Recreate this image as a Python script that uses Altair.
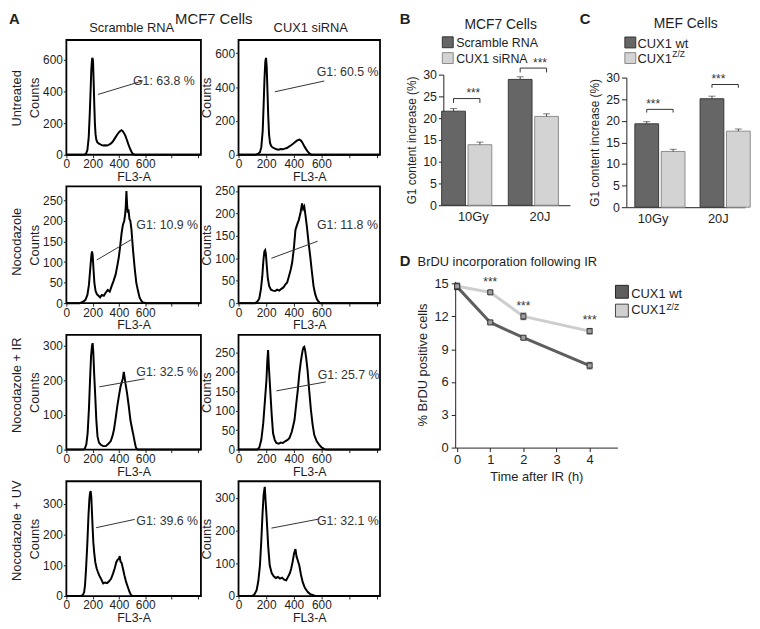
import altair as alt
import pandas as pd

FONT = "Liberation Sans"
INK = "#1e1e1e"

# ---------------- Panel A: flow-cytometry histograms (FL3-A channel vs counts) ----------------
untreated_scr_fl = [0, 140, 150, 160, 170, 178, 185, 190, 195, 199, 203, 207, 212, 217, 222, 228, 235, 245, 255, 265, 280, 295, 310, 325, 340, 355, 370, 385, 400, 410, 420, 430, 440, 450, 460, 470, 480, 490, 500, 510, 520, 1020]
untreated_scr_ct = [0, 0, 8, 30, 110, 260, 420, 540, 600, 612, 590, 480, 330, 200, 130, 95, 80, 72, 68, 62, 58, 60, 58, 64, 72, 85, 105, 125, 142, 150, 155, 148, 135, 118, 95, 70, 48, 28, 12, 4, 0, 0]

untreated_cux_fl = [0, 125, 140, 155, 165, 175, 182, 188, 194, 199, 204, 209, 215, 221, 228, 236, 245, 260, 275, 290, 305, 320, 335, 350, 365, 380, 395, 410, 420, 430, 440, 450, 460, 470, 480, 490, 500, 510, 520, 530, 1020]
untreated_cux_ct = [0, 0, 5, 15, 45, 140, 300, 450, 550, 572, 520, 390, 230, 120, 70, 52, 44, 38, 32, 30, 34, 32, 36, 40, 48, 56, 65, 75, 82, 86, 90, 85, 75, 60, 45, 32, 20, 10, 4, 0, 0]

noc_scr_fl = [0, 100, 115, 130, 145, 160, 172, 182, 190, 195, 200, 206, 213, 222, 232, 245, 257, 270, 285, 300, 315, 330, 345, 360, 375, 390, 400, 410, 420, 430, 440, 447, 452, 457, 462, 467, 472, 480, 487, 495, 507, 520, 532, 545, 557, 570, 582, 595, 607, 1020]
noc_scr_ct = [0, 0, 2, 4, 8, 20, 45, 85, 115, 126, 118, 85, 50, 30, 22, 18, 14, 20, 18, 26, 32, 28, 42, 55, 70, 95, 114, 140, 170, 190, 200, 215, 235, 273, 240, 220, 228, 205, 200, 180, 130, 85, 50, 30, 14, 6, 2, 1, 0, 0]

noc_cux_fl = [0, 120, 135, 150, 162, 172, 180, 187, 193, 198, 204, 212, 222, 235, 250, 265, 280, 295, 310, 325, 340, 352, 365, 378, 388, 400, 412, 424, 436, 448, 460, 468, 476, 485, 495, 507, 519, 531, 543, 555, 567, 580, 590, 1020]
noc_cux_ct = [0, 0, 3, 10, 31, 60, 95, 115, 118, 110, 85, 55, 38, 30, 28, 27, 30, 28, 32, 35, 42, 46, 60, 75, 90, 120, 163, 175, 185, 200, 222, 210, 215, 195, 170, 135, 104, 70, 38, 20, 9, 3, 0, 0]

ir_scr_fl = [0, 130, 140, 152, 162, 172, 180, 188, 195, 200, 205, 212, 220, 228, 237, 248, 262, 280, 300, 318, 337, 350, 362, 375, 387, 400, 412, 422, 430, 437, 443, 450, 462, 475, 487, 500, 512, 522, 530, 540, 550, 1020]
ir_scr_ct = [0, 0, 3, 15, 48, 120, 200, 270, 300, 307, 280, 215, 152, 85, 38, 20, 14, 10, 10, 16, 24, 38, 57, 90, 124, 155, 181, 195, 205, 224, 210, 190, 162, 125, 86, 60, 38, 18, 5, 1, 0, 0]

ir_cux_fl = [0, 135, 150, 165, 179, 192, 202, 208, 214, 220, 226, 231, 240, 250, 262, 274, 290, 305, 321, 340, 355, 369, 385, 395, 405, 417, 429, 440, 452, 464, 470, 476, 482, 490, 500, 512, 524, 536, 548, 565, 583, 600, 619, 635, 1020]
ir_cux_ct = [0, 0, 5, 25, 68, 130, 178, 225, 256, 210, 175, 144, 90, 42, 25, 17, 15, 18, 17, 22, 25, 30, 45, 60, 76, 115, 153, 195, 229, 255, 262, 264, 255, 235, 203, 150, 102, 65, 38, 22, 13, 6, 2, 0, 0]

uv_scr_fl = [0, 110, 125, 135, 142, 150, 160, 168, 175, 180, 185, 190, 195, 200, 205, 212, 220, 230, 240, 250, 265, 280, 295, 310, 325, 340, 355, 368, 380, 390, 400, 406, 412, 420, 430, 442, 455, 467, 480, 492, 505, 1020]
uv_scr_ct = [0, 0, 3, 12, 35, 90, 175, 260, 314, 335, 341, 320, 270, 220, 175, 140, 110, 90, 78, 67, 55, 41, 44, 42, 48, 56, 73, 90, 110, 118, 121, 130, 112, 108, 90, 67, 45, 30, 14, 3, 0, 0]

uv_cux_fl = [0, 100, 115, 131, 143, 155, 165, 174, 182, 190, 196, 202, 207, 215, 226, 240, 255, 270, 285, 300, 315, 330, 345, 360, 372, 381, 392, 402, 412, 420, 428, 440, 452, 464, 480, 500, 518, 536, 555, 1020]
uv_cux_ct = [0, 0, 5, 18, 45, 93, 170, 253, 310, 333, 290, 250, 213, 150, 93, 70, 60, 55, 58, 53, 56, 50, 48, 60, 70, 83, 105, 130, 143, 120, 110, 93, 65, 43, 25, 13, 6, 3, 0, 0]

# G1 gate annotations (order: untreated scr/cux, noc scr/cux, IR scr/cux, UV scr/cux), in data units
g1_text = ["G1: 63.8 %", "G1: 60.5 %", "G1: 10.9 %", "G1: 11.8 %", "G1: 32.5 %", "G1: 25.7 %", "G1: 39.6 %", "G1: 32.1 %"]
gate_from_fl = [241, 263, 231, 238, 251, 274, 226, 238]
gate_from_ct = [381, 372, 105, 100, 181, 151, 222, 207]
gate_to_fl = [582, 621, 507, 573, 595, 632, 520, 585]
gate_to_ct = [467, 436, 157, 138, 204, 174, 249, 235]
g1_label_fl = [507, 566, 532, 568, 532, 573, 532, 568]
g1_label_ct = [439, 463, 181, 165, 211, 182, 232, 218]

count_max = [725, 678, 284, 260, 331, 295, 373, 350]
count_ticks = [[0, 200, 400, 600], [0, 200, 400, 600], [0, 50, 100, 150, 200, 250], [0, 50, 100, 150, 200, 250],
               [0, 100, 200, 300], [0, 50, 100, 150, 200, 250], [0, 100, 200, 300], [0, 100, 200, 300]]
fl_ticks = [0, 200, 400, 600, 800, 1000]

# ---------------- Panel B ----------------
b_conditions = ["10Gy", "20J"]
b_series = ["Scramble RNA", "CUX1 siRNA"]
b_scramble = [21.6, 28.9]
b_scramble_err = [0.6, 0.6]
b_cux1 = [13.9, 20.4]
b_cux1_err = [0.6, 0.6]
b_bracket = [24.5, 31.5]

# ---------------- Panel C ----------------
c_series = ["CUX1 wt", "CUX1 Z/Z"]
c_wt = [19.3, 25.1]
c_wt_err = [0.5, 0.6]
c_zz = [12.9, 17.6]
c_zz_err = [0.5, 0.5]
c_bracket = [22.65, 28.4]

# ---------------- Panel D ----------------
d_time = [0, 1, 2, 4]
d_wt = [14.7, 11.45, 10.05, 7.5]
d_wt_err = [0.25, 0.15, 0.15, 0.3]
d_zz = [14.75, 14.2, 12.0, 10.65]
d_zz_err = [0.3, 0.15, 0.3, 0.25]
d_star_time = [1, 2, 4]
d_star_level = [14.8, 12.57, 11.3]

ONE = pd.DataFrame({"k": [0]})


def label(text, x, y, size=13, weight="normal", align="left", baseline="alphabetic", angle=None, color=INK):
    kw = dict(text=text, fontSize=size, fontWeight=weight, align=align, baseline=baseline, color=color, font=FONT)
    if angle is not None:
        kw["angle"] = angle
    return alt.Chart(ONE).mark_text(**kw).encode(x=alt.value(x), y=alt.value(y))


def square(x, y, side, fill, stroke):
    return alt.Chart(ONE).mark_square(size=side * side, fill=fill, stroke=stroke, strokeWidth=1, opacity=1,
                                      filled=True).encode(x=alt.value(x), y=alt.value(y))


def hist(i, fl, ct, w, h, extras):
    xs = alt.Scale(domain=[0, 1024], nice=False, zero=False)
    ys = alt.Scale(domain=[0, count_max[i]], nice=False)
    xax = alt.Axis(values=fl_ticks, labelExpr="datum.value <= 600 ? datum.label : ''", grid=False, domain=False,
                   tickSize=3, labelFontSize=12, labelPadding=1, labelFlush=False, labelOverlap=False,
                   titleFontSize=12.5, titlePadding=1)
    yax = alt.Axis(values=count_ticks[i], grid=False, domain=False, tickSize=3, labelFontSize=12, labelPadding=1,
                   labelFlush=False, labelOverlap=False, titleFontSize=13, titlePadding=1)
    X = lambda f: alt.X(f, scale=xs, axis=xax, title="FL3-A")
    Y = lambda f: alt.Y(f, scale=ys, axis=yax, title="Counts")
    curve = alt.Chart(pd.DataFrame({"fl": fl, "ct": ct})).mark_line(color="black", strokeWidth=2).encode(
        x=X("fl:Q"), y=Y("ct:Q"))
    gate_df = pd.DataFrame({"a": [gate_from_fl[i]], "b": [gate_to_fl[i]], "c": [gate_from_ct[i]], "d": [gate_to_ct[i]],
                            "tx": [g1_label_fl[i]], "ty": [g1_label_ct[i]], "t": [g1_text[i]]})
    gate = alt.Chart(gate_df).mark_rule(color="#333333", strokeWidth=1).encode(x=X("a:Q"), x2="b:Q", y=Y("c:Q"),
                                                                               y2="d:Q")
    txt = alt.Chart(gate_df).mark_text(align="left", baseline="alphabetic", fontSize=12.5, color="#333333",
                                       font=FONT).encode(x=X("tx:Q"), y=Y("ty:Q"), text="t:N")
    return alt.layer(curve, gate, txt, *extras).properties(
        width=w, height=h, view=alt.ViewBackground(stroke="black", strokeWidth=1.8))


W1, W2 = 136, 143
h1 = hist(0, untreated_scr_fl, untreated_scr_ct, W1, 116, [
    label("A", -58, -16, size=15, weight="bold"),
    label("MCF7 Cells", 149, -16, size=15, align="center"),
    label("Scramble RNA", 66, -8, align="center"),
    label("Untreated", -50, 59, align="center", baseline="middle", angle=270),
])
h2 = hist(1, untreated_cux_fl, untreated_cux_ct, W2, 116, [label("CUX1 siRNA", 73, -8, align="center")])
h3 = hist(2, noc_scr_fl, noc_scr_ct, W1, 118,
          [label("Nocodazole", -50, 56, align="center", baseline="middle", angle=270)])
h4 = hist(3, noc_cux_fl, noc_cux_ct, W2, 118, [])
h5 = hist(4, ir_scr_fl, ir_scr_ct, W1, 116,
          [label("Nocodazole + IR", -50, 51, align="center", baseline="middle", angle=270)])
h6 = hist(5, ir_cux_fl, ir_cux_ct, W2, 116, [])
h7 = hist(6, uv_scr_fl, uv_scr_ct, W1, 116,
          [label("Nocodazole + UV", -50, 50, align="center", baseline="middle", angle=270)])
h8 = hist(7, uv_cux_fl, uv_cux_ct, W2, 116, [])


def bar_panel(conds, series, v0, e0, v1, e1, levels, dip, pad_in, pad_out, w, h, xrange, yrange, xoff, yoff,
              bar_w, fills, strokes, extras):
    df = pd.DataFrame({"cond": conds * 2, "series": [series[0]] * 2 + [series[1]] * 2,
                       "val": v0 + v1, "err": e0 + e1})
    df["top"] = df["val"] + df["err"]
    xsc = alt.Scale(domain=conds, range=xrange, paddingInner=pad_in, paddingOuter=pad_out)
    xax = alt.Axis(title=None, labelAngle=0, ticks=False, labelFontSize=13, labelPadding=5, grid=False, offset=xoff)
    ysc = alt.Scale(domain=[0, 30], nice=False, range=yrange)
    yax = alt.Axis(values=[0, 5, 10, 15, 20, 25, 30], grid=False, tickSize=5, labelFontSize=12.5, labelPadding=2,
                   titleFontSize=12, titlePadding=4, offset=yoff)
    X = alt.X("cond:N", scale=xsc, axis=xax)
    XO = alt.XOffset("series:N", sort=series, scale=alt.Scale(paddingInner=0.06))
    Y = lambda f: alt.Y(f, scale=ysc, axis=yax, title="G1 content increase (%)")
    bars = alt.Chart(df).mark_bar(strokeWidth=1, size=bar_w).encode(
        x=X, xOffset=XO, y=Y("val:Q"),
        fill=alt.Fill("series:N", sort=series, scale=alt.Scale(domain=series, range=fills), legend=None),
        stroke=alt.Stroke("series:N", sort=series, scale=alt.Scale(domain=series, range=strokes), legend=None))
    err = alt.Chart(df).mark_rule(color="#444444", strokeWidth=1).encode(x=X, xOffset=XO, y=Y("val:Q"), y2="top:Q")
    cap = alt.Chart(df).mark_tick(color="#444444", thickness=1, size=7).encode(x=X, xOffset=XO, y=Y("top:Q"))
    rows = []
    for c, lv in zip(conds, levels):
        rows += [(c, series[0], lv - dip, 0), (c, series[0], lv, 1), (c, series[1], lv, 2),
                 (c, series[1], lv - dip, 3)]
    br = pd.DataFrame(rows, columns=["cond", "series", "yb", "ord"])
    bracket = alt.Chart(br).mark_line(color="#333333", strokeWidth=1).encode(
        x=X, xOffset=XO, y=Y("yb:Q"), order="ord:Q", detail="cond:N")
    st = pd.DataFrame({"cond": conds, "ys": [lv + 0.25 for lv in levels]})
    stars = alt.Chart(st).mark_text(text="***", fontSize=12, align="center", baseline="alphabetic",
                                    color="#333333", font=FONT).encode(x=X, y=Y("ys:Q"))
    return alt.layer(bars, err, cap, bracket, stars, *extras).properties(
        width=w, height=h, view=alt.ViewBackground(stroke="transparent"))


DARK, LIGHT = "#666666", "#d3d3d3"
# B cell origin (abs 421, 36): plot area at abs x 447..575, y 71..203
panel_b = bar_panel(b_conditions, b_series, b_scramble, b_scramble_err, b_cux1, b_cux1_err, b_bracket, 1.0,
                    0.22, 0.06, 173, 116, [26, 154], [167, 35], 51, -26, 24, [DARK, LIGHT], ["#3a3a3a", "#8c8c8c"], [
                        label("B", -18, -16, size=15, weight="bold"),
                        label("MCF7 Cells", 84, -11, size=14, align="center"),
                        square(30.5, 2.3, 11, DARK, "#333333"),
                        square(30.5, 18.3, 11, LIGHT, "#888888"),
                        label("Scramble RNA", 39, 7.3, size=12.5),
                        label("CUX1 siRNA", 39, 23.3, size=12.5),
                    ])
# C cell origin (abs 632, 36)
panel_c = bar_panel(b_conditions, c_series, c_wt, c_wt_err, c_zz, c_zz_err, c_bracket, 0.75,
                    0.21, 0.015, 120, 116, [0, 120], [169, 38], 53, 0, 24, [DARK, LIGHT], ["#3a3a3a", "#8c8c8c"], [
                        label("C", -47, -16, size=15, weight="bold"),
                        label("MEF Cells", 60, -12, size=14, align="center"),
                        square(4, 2.5, 11, DARK, "#333333"),
                        square(4, 18.3, 11, LIGHT, "#888888"),
                        label("CUX1 wt", 11.3, 7.7),
                        label("CUX1", 11.3, 23.3),
                        label("Z/Z", 46.5, 17.5, size=8.5),
                    ])

# Panel D, cell origin (abs 421, 184): plot area abs x 459..623, y 280..448
d_df = pd.DataFrame({"t": d_time * 2, "series": ["CUX1 wt"] * 4 + ["CUX1 Z/Z"] * 4,
                     "v": d_wt + d_zz, "e": d_wt_err + d_zz_err})
d_df["hi"] = d_df["v"] + d_df["e"]
d_df["lo"] = d_df["v"] - d_df["e"]
dx = alt.Scale(domain=[-0.06, 4.84], nice=False, zero=False, range=[38, 202])
dy = alt.Scale(domain=[0, 15.2], nice=False, range=[264, 96])
dxa = alt.Axis(values=[0, 1, 2, 3, 4], format="d", grid=False, tickSize=4, labelFontSize=13, labelPadding=2,
               titleFontSize=13, titlePadding=4, offset=146)
dya = alt.Axis(values=[0, 3, 6, 9, 12, 15], grid=False, tickSize=4, labelFontSize=13, labelPadding=3,
               titleFontSize=13, titlePadding=5, offset=-38)
DX = lambda f: alt.X(f, scale=dx, axis=dxa, title="Time after IR (h)")
DY = lambda f: alt.Y(f, scale=dy, axis=dya, title="% BrDU positive cells")
d_lines = alt.Chart(d_df).mark_line(strokeWidth=3).encode(
    x=DX("t:Q"), y=DY("v:Q"),
    color=alt.Color("series:N", scale=alt.Scale(domain=c_series, range=["#5e5e5e", "#cdcdcd"]), legend=None))
d_err = alt.Chart(d_df).mark_rule(color="#222222", strokeWidth=1).encode(x=DX("t:Q"), y=DY("lo:Q"), y2="hi:Q")
d_cap_hi = alt.Chart(d_df).mark_tick(color="#222222", thickness=1, size=6, orient="horizontal").encode(
    x=DX("t:Q"), y=DY("hi:Q"))
d_cap_lo = alt.Chart(d_df).mark_tick(color="#222222", thickness=1, size=6, orient="horizontal").encode(
    x=DX("t:Q"), y=DY("lo:Q"))
d_pts = alt.Chart(d_df).mark_square(size=26, filled=True, fill="#a0a0a0", stroke="#333333", strokeWidth=1,
                                    opacity=1).encode(x=DX("t:Q"), y=DY("v:Q"))
d_stars = alt.Chart(pd.DataFrame({"t": d_star_time, "s": d_star_level})).mark_text(
    text="***", fontSize=12, align="center", baseline="alphabetic", color="#333333", font=FONT).encode(
    x=DX("t:Q"), y=DY("s:Q"))
panel_d = alt.layer(
    d_lines, d_err, d_cap_hi, d_cap_lo, d_pts, d_stars,
    label("D", -18, 80, size=15, weight="bold"),
    label("BrDU incorporation following IR", 0, 80),
    square(206.5, 106.5, 13, "#5e5e5e", "#222222"),
    square(206.5, 125.5, 13, "#d0d0d0", "#444444"),
    label("CUX1 wt", 216, 113),
    label("CUX1", 216, 128.7),
    label("Z/Z", 251.5, 125, size=8.5),
).properties(width=173, height=118, view=alt.ViewBackground(stroke="transparent"))


def spacer():
    return alt.Chart(ONE).mark_point(opacity=0).encode(
        x=alt.X("k:Q", axis=None), y=alt.Y("k:Q", axis=None)).properties(
        width=1, height=1, view=alt.ViewBackground(stroke="transparent"))


chart = alt.concat(
    h1, h2, panel_b, panel_c,
    h3, h4, panel_d, spacer(),
    h5, h6, spacer(), spacer(),
    h7, h8, spacer(), spacer(),
    columns=4, spacing={"row": 32, "column": 38}, bounds="flush",
).properties(
    padding={"left": 0, "top": 0, "right": 0, "bottom": 0}
).configure_axis(
    labelFont=FONT, titleFont=FONT, labelColor=INK, titleColor=INK, titleFontWeight="normal",
    tickColor="#222222", domainColor="#222222"
).configure_view(stroke="transparent")

chart.save("out.html", embed_options={"renderer": "svg", "actions": False})
